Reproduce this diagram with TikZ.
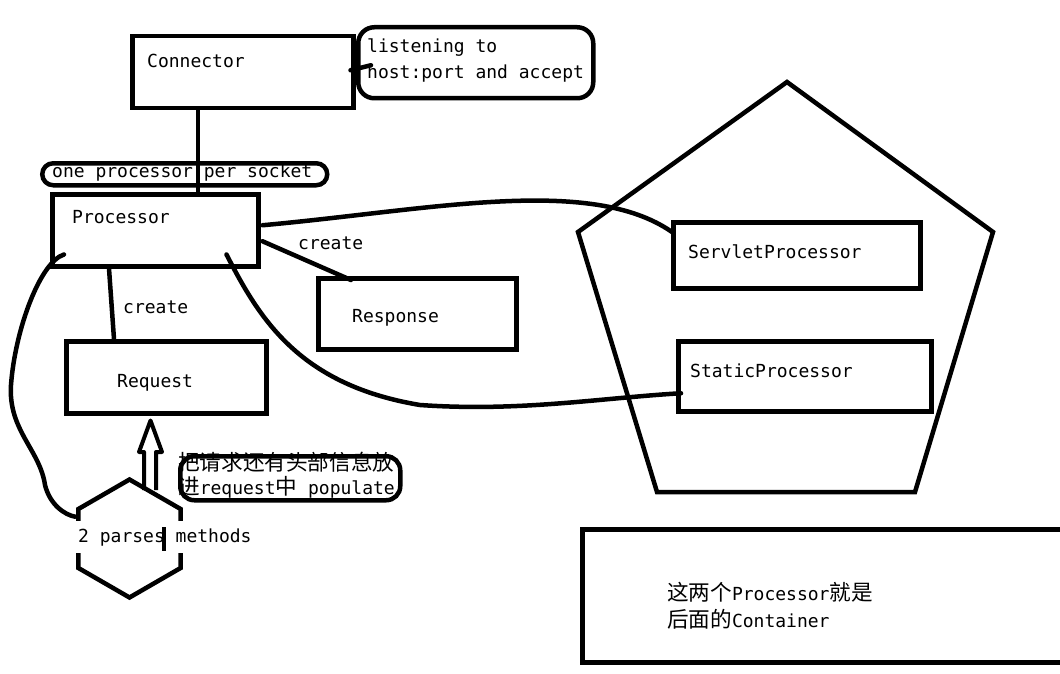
\documentclass[tikz,border=0pt]{standalone}
\usepackage{fontspec}
\setmonofont{DejaVu Sans Mono}
\newfontfamily\cjk[Scale=1.2]{Noto Sans CJK SC}
\usetikzlibrary{calc,shapes.geometric}
\tikzset{
  box/.style={draw, line width=4.5pt, rectangle, inner sep=0pt, anchor=north west},
  callout/.style={box, rounded corners=#1},
  txt/.style={font=\ttfamily\fontsize{18}{20}\selectfont, inner sep=0pt, anchor=base west},
  link/.style={line width=4.5pt, line cap=round},
  outline/.style={line width=4.5pt},
}
\begin{document}
\begin{tikzpicture}[x=1pt,y=-1pt]
\useasboundingbox (0,0) rectangle (1060,674);

% container pentagon
\draw[outline, line join=miter] (787,82) -- (993,232) -- (915,492) -- (657,492) -- (578,232) -- cycle;

% boxes
\node[box, minimum width=221pt, minimum height=72pt] (conn) at (130,34) {};
\node[callout=16pt, minimum width=235pt, minimum height=71pt] (listen) at (356,25) {};
\node[callout=11pt, minimum width=285pt, minimum height=22pt] (pill) at (40,161) {};
\node[box, minimum width=206pt, minimum height=72pt] (proc) at (50,192) {};
\node[box, minimum width=200pt, minimum height=72pt] (req) at (64,339) {};
\node[box, minimum width=198pt, minimum height=71pt] (resp) at (316,276) {};
\node[box, minimum width=247pt, minimum height=66pt] (serv) at (671,220) {};
\node[box, minimum width=253pt, minimum height=70pt] (stat) at (676,339) {};
\node[box, minimum width=500pt, minimum height=133pt] (cont) at (580,527) {};
\node[callout=14pt, minimum width=220pt, minimum height=44pt] (note) at (178,454) {};
\node[draw, line width=4.5pt, regular polygon, regular polygon sides=6, shape border rotate=30,
      minimum size=118pt, inner sep=0pt] (hex) at (129.5,538.5) {};

% texts
\node[txt] (tconn) at (147,68) {Connector};
\node[txt] (tlisten1) at (367,53) {listening to};
\node[txt] (tlisten2) at (367,79) {host:port and accept};
\node[txt] (tpill) at (52,178) {one processor per socket};
\node[txt] (tproc) at (72,223) {Processor};
\node[txt] (tcreate1) at (123,313) {create};
\node[txt] (tcreate2) at (298,249) {create};
\node[txt] (treq) at (117,387) {Request};
\node[txt] (tresp) at (352,322) {Response};
\node[txt] (tserv) at (688,258) {ServletProcessor};
\node[txt] (tstat) at (690,377) {StaticProcessor};
\node[txt] (tnote1) at (178,470.5) {{\cjk 把请求还有头部信息放}};
\node[txt] (tnote2) at (178,494) {{\cjk 进}request{\cjk 中} populate};
\node[txt] (tcont1) at (667,600) {{\cjk 这两个}Processor{\cjk 就是}};
\node[txt] (tcont2) at (667,627) {{\cjk 后面的}Container};
\node[txt, fill=white, inner xsep=2pt, inner ysep=7pt] (thex) at (76,542) {2 parses methods};
\draw[line width=4.5pt] (164,527) -- (164,551);

% connectors
\draw[link] ($(conn.south west)+(68,0)$) -- ($(proc.north west)+(148,0)$);
\draw[link] ($(conn.east)+(-5,-2)$) -- ($(listen.west)+(15,2.5)$);
\draw[link] ($(proc.south west)+(59,0)$) -- ($(req.north west)+(50,0)$);
\draw[link] ($(proc.east)+(2,11)$) -- ($(resp.north west)+(35,4)$);
\draw[link] ($(proc.east)+(2,-5)$) .. controls (430,210) and (590,175) .. ($(serv.north west)+(1,12)$);
\draw[link] ($(proc.south east)+(-34,-14)$) .. controls (260,320) and (300,385) .. (420,405)
            .. controls (520,412) and (600,398) .. ($(stat.west)+(5,17)$);
\draw[link] ($(proc.south west)+(14,-14)$) .. controls (40,262) and (15,330) .. (11,385)
            .. controls (8,430) and (40,450) .. (45,485)
            .. controls (50,505) and (65,515) .. ($(hex.150)+(-1,9)$);

% hollow double arrow from parser to Request
\draw[line width=4pt, line join=round] (144,490) -- (144,452) -- (139,452) -- ($(req.south west)+(86.5,5)$)
      -- (162,452) -- (156,452) -- (156,490);
\end{tikzpicture}
\end{document}
